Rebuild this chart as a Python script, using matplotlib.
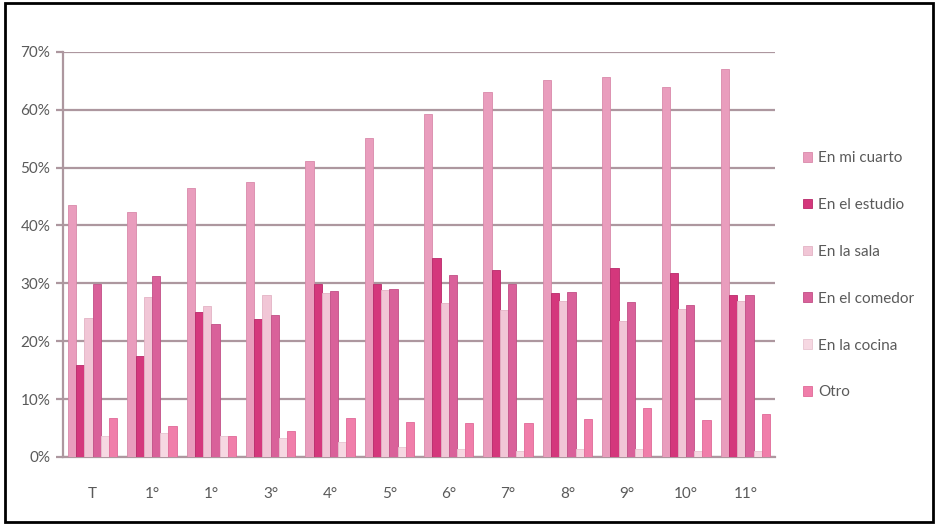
import matplotlib
matplotlib.use("Agg")
import matplotlib.pyplot as plt
import numpy as np
from matplotlib.patches import Rectangle
from matplotlib.ticker import FuncFormatter

# data (percent)
grades = ['T', '1°', '1°', '3°', '4°', '5°', '6°', '7°', '8°', '9°', '10°', '11°']
series = ['En mi cuarto', 'En el estudio', 'En la sala', 'En el comedor', 'En la cocina', 'Otro']

cuarto = [43.5, 42.3, 46.4, 47.5, 51.2, 55.2, 59.2, 63.0, 65.2, 65.6, 63.9, 67.1]
estudio = [15.9, 17.5, 25.0, 23.8, 29.9, 29.9, 34.3, 32.3, 28.3, 32.6, 31.7, 28.0]
sala = [24.0, 27.6, 26.0, 28.0, 28.3, 28.9, 26.6, 25.4, 26.9, 23.5, 25.6, 27.0]
comedor = [29.9, 31.3, 23.0, 24.6, 28.6, 29.0, 31.5, 29.9, 28.5, 26.8, 26.2, 27.9]
cocina = [3.6, 4.1, 3.6, 3.3, 2.6, 1.8, 1.4, 1.0, 1.3, 1.3, 1.1, 1.0]
otro = [6.7, 5.4, 3.6, 4.5, 6.7, 6.1, 5.8, 5.8, 6.6, 8.4, 6.3, 7.4]

values = [cuarto, estudio, sala, comedor, cocina, otro]
colors = ['#e99dbd', '#d4377c', '#f1c6d6', '#d9619a', '#f6d8e2', '#f07eaa']
edges = ['#d98aaa', '#b8296a', '#e3b3c4', '#c24f86', '#e8c4d0', '#e06a98']

text_col = '#5a5a5a'
grid_col = '#ad979f'
plt.rcParams['font.family'] = ['Lato', 'DejaVu Sans']

fig = plt.figure(figsize=(9.37, 5.24), dpi=100)
ax = fig.add_axes([0.0672, 0.128, 0.760, 0.773])

x = np.arange(len(grades))
w = 0.138
for i, (vals, c, ec) in enumerate(zip(values, colors, edges)):
    ax.bar(x + (i - 2.5) * w, vals, w, color=c, edgecolor=ec, linewidth=0.6,
           label=series[i], zorder=3)

ax.set_xlim(-0.5, len(grades) - 0.5)
ax.set_ylim(0, 70)
ax.set_yticks(np.arange(0, 71, 10))
ax.yaxis.set_major_formatter(FuncFormatter(lambda v, p: f'{v:.0f}%'))
ax.set_xticks(x)
ax.set_xticklabels(grades)

ax.grid(axis='y', color=grid_col, linewidth=1.6, zorder=0)
for s in ['top', 'right']:
    ax.spines[s].set_visible(False)
for s in ['left', 'bottom']:
    ax.spines[s].set_color(grid_col)
    ax.spines[s].set_linewidth(1.6)

ax.tick_params(axis='y', colors=grid_col, labelcolor=text_col, labelsize=11,
               length=5, width=1.6, pad=4)
ax.tick_params(axis='x', length=0, labelcolor=text_col, labelsize=11, pad=22)

ax.legend(loc='upper left', bbox_to_anchor=(1.03, 0.77), frameon=False,
          fontsize=11, labelcolor=text_col, handlelength=0.6, handleheight=0.6,
          handletextpad=0.4, labelspacing=2.15, borderaxespad=0)

# black frame around the whole picture
fig.patches.append(Rectangle((0.005, 0.004), 0.991, 0.99, transform=fig.transFigure,
                             fill=False, edgecolor='black', linewidth=2))

plt.savefig('out.png', dpi=100, facecolor='white')
